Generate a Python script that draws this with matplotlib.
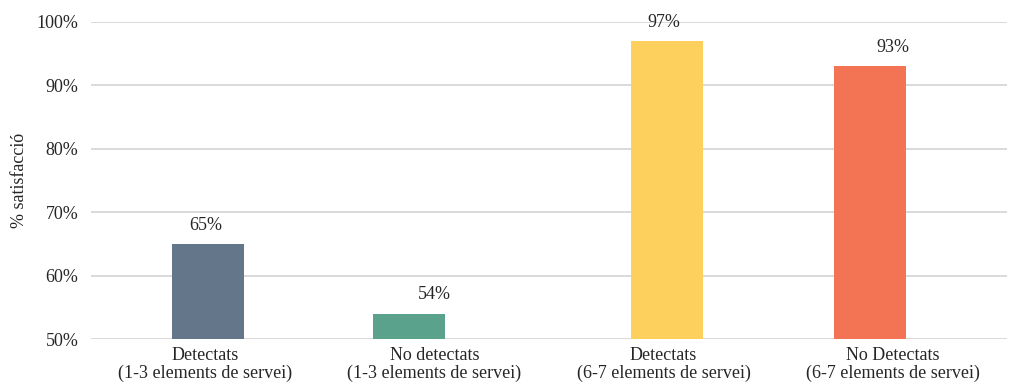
import matplotlib.pyplot as plt
import numpy as np

plt.rcParams['font.family'] = ['Liberation Serif', 'DejaVu Serif']

categories = ["Detectats\n(1-3 elements de servei)", "No detectats\n(1-3 elements de servei)",
              "Detectats\n(6-7 elements de servei)", "No Detectats\n(6-7 elements de servei)"]
values = [65, 54, 97, 93]
colors = ["#64768A", "#5BA28C", "#FDD05D", "#F37455"]
# horizontal shift of each bar inside its slot, as in the source chart
bar_shift = [0.01, -0.11, 0.015, -0.10]

FS = 13
TXT = "#262626"


def plot_bars():
    fig = plt.figure(figsize=(10.17, 3.85), dpi=100)
    ax = fig.add_axes([91 / 1017, 1 - 339 / 385, 916 / 1017, 317 / 385])

    x = np.arange(len(categories))
    ax.bar(x + np.array(bar_shift), np.array(values) - 50, bottom=50,
           width=0.315, color=colors, zorder=3)
    for xi, v in zip(x, values):
        ax.text(xi, v + 1.6, f"{v}%", ha="center", va="bottom", fontsize=FS, color=TXT)

    ax.set_xlim(-0.5, len(categories) - 0.5)
    ax.set_ylim(50, 100)
    ax.set_yticks(np.arange(50, 101, 10))
    ax.set_yticklabels([f"{t}%" for t in range(50, 101, 10)], fontsize=FS, color=TXT)
    ax.set_xticks(x, categories, fontsize=FS, color=TXT, linespacing=1.0)
    ax.tick_params(axis="both", length=0)
    ax.tick_params(axis="y", pad=9)
    ax.tick_params(axis="x", pad=6)
    ax.grid(axis="y", color="#D9D9D9", linewidth=1.4, zorder=0)
    for s in ax.spines.values():
        s.set_visible(False)
    ax.set_ylabel("% satisfacció", fontsize=FS, color=TXT, labelpad=6)

    fig.savefig("out.png", dpi=100)


if __name__ == '__main__':
    plot_bars()
